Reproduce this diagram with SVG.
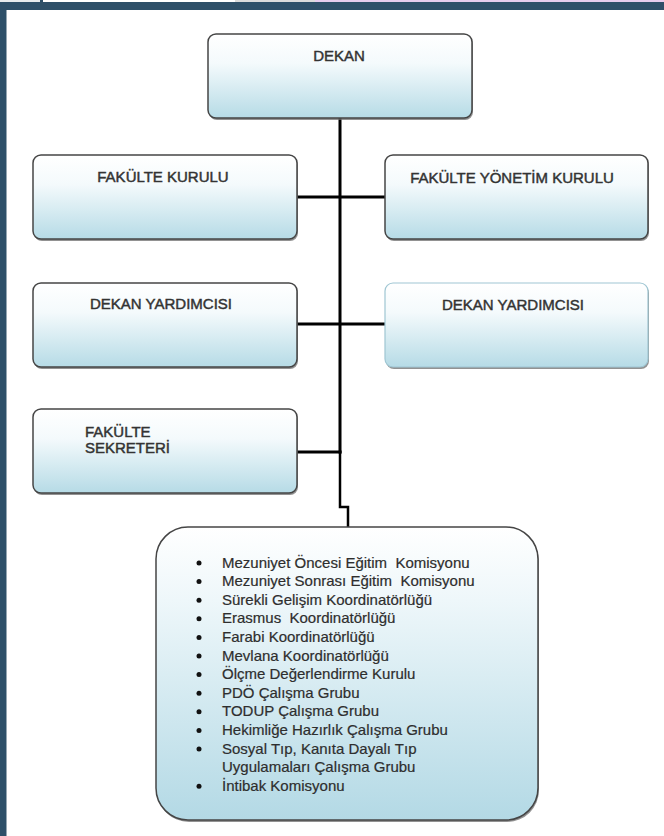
<svg xmlns="http://www.w3.org/2000/svg" width="664" height="836" viewBox="0 0 664 836">
<defs>
<linearGradient id="g" x1="0" y1="0" x2="0" y2="1">
<stop offset="0" stop-color="#ffffff"/>
<stop offset="0.35" stop-color="#f4fafc"/>
<stop offset="1" stop-color="#b6dbe6"/>
</linearGradient>
<linearGradient id="g2" x1="0" y1="0" x2="0" y2="1">
<stop offset="0" stop-color="#ffffff"/>
<stop offset="0.25" stop-color="#eef7fa"/>
<stop offset="1" stop-color="#b3d9e5"/>
</linearGradient>
</defs>
<style>
.box{fill:url(#g);stroke:#454545;stroke-width:1.5}
.boxl{fill:url(#g);stroke:#9fc6d3;stroke-width:1.2}
.sh{fill:#6e6e6e;opacity:0.75}
.t{font-family:"Liberation Sans",Arial,sans-serif;font-size:15px;fill:#333333;stroke:#333333;stroke-width:0.45}
.c{text-anchor:middle}
.li{font-family:"Liberation Sans",Arial,sans-serif;font-size:15px;fill:#2e2e2e;stroke:#2e2e2e;stroke-width:0.2}
.conn{stroke:#000;fill:none;stroke-linecap:square}
</style>
<rect x="0" y="0" width="664" height="836" fill="#ffffff"/>
<g id="frame">
<rect x="0" y="2" width="664" height="8" fill="#2e5069"/>
<rect x="0" y="2" width="6.5" height="834" fill="#2e5069"/>
<rect x="0" y="0" width="40" height="2" fill="#e8ecee"/>
<rect x="40" y="0" width="3" height="2" fill="#2e5069"/>
<rect x="235" y="0" width="80" height="2" fill="#dcdcdc"/>
<rect x="315" y="0" width="349" height="2" fill="#e6cdee"/>
</g>
<g id="connectors">
<path class="conn" d="M340,118 V452" stroke-width="3"/>
<path class="conn" d="M340,452 V507 H348 V527" stroke-width="2.5"/>
<path class="conn" d="M297,197 H385" stroke-width="3"/>
<path class="conn" d="M297,324 H385" stroke-width="3"/>
<path class="conn" d="M297,452 H340" stroke-width="3"/>
</g>
<g id="dekan">
<rect class="sh" x="209" y="36" width="264" height="84" rx="8"/>
<rect class="box" x="208" y="34" width="264" height="84" rx="8"/>
<text class="t c" x="339" y="61">DEKAN</text>
</g>
<g id="fakulte-kurulu">
<rect class="sh" x="34" y="157" width="264" height="84" rx="8"/>
<rect class="box" x="33" y="155" width="264" height="84" rx="8"/>
<text class="t c" x="163" y="182">FAKÜLTE KURULU</text>
</g>
<g id="fakulte-yonetim-kurulu">
<rect class="sh" x="386" y="157" width="263" height="84" rx="8"/>
<rect class="box" x="385" y="155" width="263" height="84" rx="8"/>
<text class="t c" x="512" y="183">FAKÜLTE YÖNETİM KURULU</text>
</g>
<g id="dekan-yardimcisi-1">
<rect class="sh" x="34" y="285" width="264" height="84" rx="8"/>
<rect class="box" x="33" y="283" width="264" height="84" rx="8"/>
<text class="t c" x="161" y="309">DEKAN YARDIMCISI</text>
</g>
<g id="dekan-yardimcisi-2">
<rect class="sh" x="386" y="285" width="263" height="84" rx="8" opacity="0.5"/>
<rect class="boxl" x="385" y="283" width="263" height="84" rx="8"/>
<text class="t c" x="513" y="310">DEKAN YARDIMCISI</text>
</g>
<g id="fakulte-sekreteri">
<rect class="sh" x="34" y="411" width="264" height="84" rx="8"/>
<rect class="box" x="33" y="409" width="264" height="84" rx="8"/>
<text class="t" x="85" y="437">FAKÜLTE</text>
<text class="t" x="85" y="453">SEKRETERİ</text>
</g>
<g id="komisyonlar">
<rect x="157" y="529" width="382" height="293" rx="32" fill="#6e6e6e" opacity="0.75"/>
<rect x="156" y="527" width="382" height="293" rx="32" fill="url(#g2)" stroke="#454545" stroke-width="1.5"/>
<g fill="#111">
<circle cx="199" cy="563" r="2.5"/>
<circle cx="199" cy="581.6" r="2.5"/>
<circle cx="199" cy="600.2" r="2.5"/>
<circle cx="199" cy="618.8" r="2.5"/>
<circle cx="199" cy="637.4" r="2.5"/>
<circle cx="199" cy="656" r="2.5"/>
<circle cx="199" cy="674.6" r="2.5"/>
<circle cx="199" cy="693.2" r="2.5"/>
<circle cx="199" cy="711.8" r="2.5"/>
<circle cx="199" cy="730.4" r="2.5"/>
<circle cx="199" cy="749" r="2.5"/>
<circle cx="199" cy="786.2" r="2.5"/>
</g>
<text class="li" xml:space="preserve" x="222" y="567.5">Mezuniyet Öncesi Eğitim  Komisyonu</text>
<text class="li" xml:space="preserve" x="222" y="586.1">Mezuniyet Sonrası Eğitim  Komisyonu</text>
<text class="li" x="222" y="604.7">Sürekli Gelişim Koordinatörlüğü</text>
<text class="li" xml:space="preserve" x="222" y="623.3">Erasmus  Koordinatörlüğü</text>
<text class="li" x="222" y="641.9">Farabi Koordinatörlüğü</text>
<text class="li" x="222" y="660.5">Mevlana Koordinatörlüğü</text>
<text class="li" x="222" y="679.1">Ölçme Değerlendirme Kurulu</text>
<text class="li" x="222" y="697.7">PDÖ Çalışma Grubu</text>
<text class="li" x="222" y="716.3">TODUP Çalışma Grubu</text>
<text class="li" x="222" y="734.9">Hekimliğe Hazırlık Çalışma Grubu</text>
<text class="li" x="222" y="753.5">Sosyal Tıp, Kanıta Dayalı Tıp</text>
<text class="li" x="222" y="772.1">Uygulamaları Çalışma Grubu</text>
<text class="li" x="222" y="790.7">İntibak Komisyonu</text>
</g>
</svg>
